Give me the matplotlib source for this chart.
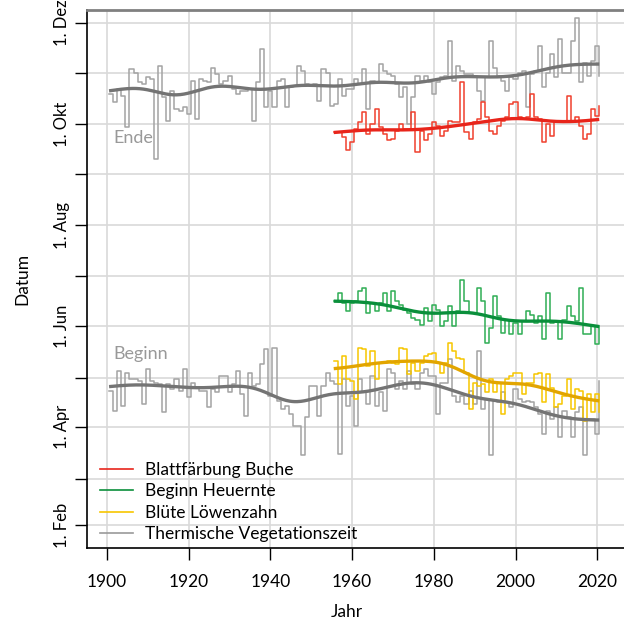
import numpy as np
import matplotlib
matplotlib.use("Agg")
import matplotlib.pyplot as plt

plt.rcParams['font.family'] = ['Lato', 'DejaVu Sans']

# ---- data (day of year) ----
years_long = list(range(1901, 2022))
years_short = list(range(1956, 2022))

veg_end = [292, 287, 295, 291, 272, 307, 305, 299, 298, 302,
           301, 253, 309, 290, 276, 294, 283, 282, 284, 280,
           300, 277, 301, 300, 299, 308, 304, 298, 300, 303,
           295, 292, 294, 294, 295, 276, 299, 319, 284, 294,
           284, 300, 301, 284, 296, 297, 309, 306, 298, 297,
           298, 288, 307, 305, 285, 286, 301, 291, 295, 295,
           301, 298, 307, 283, 300, 299, 310, 306, 304, 303,
           298, 290, 296, 274, 290, 303, 300, 303, 299, 292,
           299, 302, 303, 324, 300, 309, 306, 304, 304, 303,
           294, 288, 302, 324, 308, 303, 300, 294, 302, 301,
           305, 306, 284, 304, 306, 321, 296, 305, 316, 302,
           325, 305, 305, 324, 338, 299, 311, 303, 312, 321,
           303]

veg_begin = [113, 101, 125, 104, 124, 120, 120, 119, 105, 126,
             119, 118, 117, 100, 117, 114, 120, 113, 126, 109,
             118, 115, 113, 113, 103, 114, 112, 122, 122, 112,
             117, 125, 111, 98, 124, 116, 117, 129, 138, 110,
             139, 107, 102, 104, 99, 92, 92, 74, 97, 116,
             116, 98, 116, 124, 119, 117, 75, 120, 104, 110,
             92, 120, 112, 105, 122, 104, 112, 101, 126, 124,
             114, 119, 114, 125, 117, 114, 124, 126, 122, 122,
             99, 118, 118, 132, 110, 106, 110, 105, 113, 105,
             137, 102, 108, 74, 107, 106, 112, 106, 103, 114,
             108, 106, 107, 106, 103, 99, 87, 101, 96, 103,
             85, 101, 97, 85, 100, 103, 74, 96, 96, 87,
             119]

blattfaerbung = [269, 269, 266, 258, 263, 271, 275, 281, 268, 274,
                 283, 272, 268, 264, 265, 270, 274, 271, 271, 281,
                 257, 270, 264, 268, 275, 273, 267, 270, 276, 275,
                 275, 299, 269, 265, 275, 277, 287, 278, 270, 268,
                 273, 276, 278, 286, 287, 278, 277, 278, 292, 278,
                 277, 263, 274, 267, 275, 276, 275, 291, 275, 278,
                 273, 265, 268, 283, 279, 285]

heuernte = [167, 172, 166, 161, 166, 167, 173, 175, 160, 166,
            161, 166, 172, 161, 173, 167, 165, 162, 160, 157,
            156, 153, 163, 155, 165, 162, 152, 155, 164, 152,
            161, 180, 167, 160, 160, 175, 167, 142, 151, 170,
            158, 148, 156, 147, 154, 147, 155, 161, 159, 154,
            158, 144, 172, 154, 155, 144, 156, 164, 158, 155,
            175, 147, 147, 152, 141, 152]

loewenzahn = [131, 117, 134, 120, 119, 108, 139, 138, 128, 137,
              120, 130, 130, 131, 130, 129, 139, 138, 123, 130,
              125, 130, 134, 135, 136, 130, 124, 130, 142, 137,
              133, 132, 124, 102, 118, 116, 117, 112, 120, 112,
              118, 99, 120, 122, 124, 124, 111, 118, 118, 123,
              124, 106, 123, 115, 103, 105, 110, 120, 102, 114,
              113, 95, 111, 100, 111, 100]

month_days = [32, 60, 91, 121, 152, 182, 213, 244, 274, 305, 335]
month_labels = ["1. Feb", "", "1. Apr", "", "1. Jun", "", "1. Aug", "", "1. Okt", "", "1. Dez"]
year_ticks = [1900, 1920, 1940, 1960, 1980, 2000, 2020]

legend_labels = ["Blattfärbung Buche", "Beginn Heuernte", "Blüte Löwenzahn", "Thermische Vegetationszeit"]


def smooth(x, y, sigma=5.5, iters=1):
    """Gaussian kernel (local constant) smoother with a robustness pass."""
    x = np.asarray(x, float)
    y = np.asarray(y, float)
    rw = np.ones_like(y)

    def fit_at(x0):
        w = np.exp(-0.5 * ((x - x0) / sigma) ** 2) * rw
        return (w * y).sum() / w.sum()

    for _ in range(iters):
        fitted = np.array([fit_at(xi) for xi in x])
        res = y - fitted
        s = np.median(np.abs(res))
        u = np.clip(res / (6 * s), -1, 1)
        rw = (1 - u ** 2) ** 2
    xs = np.linspace(x.min(), x.max(), 400)
    return xs, np.array([fit_at(v) for v in xs])


FS = 12.5
fig = plt.figure(figsize=(6.24, 6.22), dpi=100)
W, H = 624, 622
ax = fig.add_axes([87 / W, 1 - 548 / H, (W - 87) / W, (548 - 10) / H])

ax.set_xlim(1895.1, 2026.56)
ax.set_ylim(18.2, 342.7)

ax.set_yticks(month_days)
ax.set_yticklabels(month_labels, rotation=90, va='center', fontsize=12)
ax.set_xticks(year_ticks)
ax.set_xticklabels([str(y) for y in year_ticks], fontsize=FS)
ax.tick_params(length=8.5, width=1.0, color='black')
ax.tick_params(axis='x', pad=10.5)
ax.tick_params(axis='y', pad=3.5)
ax.grid(True, color='#d9d9d9', linewidth=1.2, zorder=0)
ax.set_axisbelow(True)

ax.spines['right'].set_visible(False)
ax.spines['top'].set_color('#808080')
ax.spines['top'].set_linewidth(2.0)
ax.spines['left'].set_linewidth(1.2)
ax.spines['bottom'].set_linewidth(1.2)

xl = np.array(years_long) - 0.5
xs_ = np.array(years_short) - 0.5

series = [
    (xl, veg_end, '#a3a3a3', '#747474'),
    (xl, veg_begin, '#a3a3a3', '#747474'),
    (xs_, blattfaerbung, '#f0402e', '#e8251b'),
    (xs_, heuernte, '#2fae55', '#0a8f3b'),
    (xs_, loewenzahn, '#f7c600', '#e2a500'),
]
for x, y, c_step, c_smooth in series:
    ax.step(x, y, where='post', color=c_step, linewidth=1.1, zorder=2)
for x, y, c_step, c_smooth in series:
    sx, sy = smooth(x, y)
    ax.plot(sx, sy, color=c_smooth, linewidth=2.4, zorder=3, solid_capstyle='butt')

ax.text(1901.5, 265.5, "Ende", color='#999999', fontsize=13, va='center', ha='left')
ax.text(1901.5, 135.2, "Beginn", color='#999999', fontsize=13, va='center', ha='left')

handles = []
for c in ['#e8251b', '#0a8f3b', '#f7c600', '#999999']:
    h, = ax.plot([], [], color=c, linewidth=1.2)
    handles.append(h)
ax.legend(handles, legend_labels, loc='upper left',
          bbox_to_anchor=((100 - 87) / 537, (548 - 462) / 538),
          frameon=False, fontsize=FS, handlelength=1.9, handletextpad=0.7,
          labelspacing=0.31, borderaxespad=0, borderpad=0)

ax.set_ylabel("Datum", fontsize=FS, va='center')
ax.yaxis.set_label_coords((22 - 87) / 537, 0.5)
ax.set_xlabel("Jahr", fontsize=FS, va='center')
ax.xaxis.set_label_coords(0.5 - (87 + 268.5 - 347) / 537, (548 - 612) / 538)

fig.savefig("out.png", dpi=100)
